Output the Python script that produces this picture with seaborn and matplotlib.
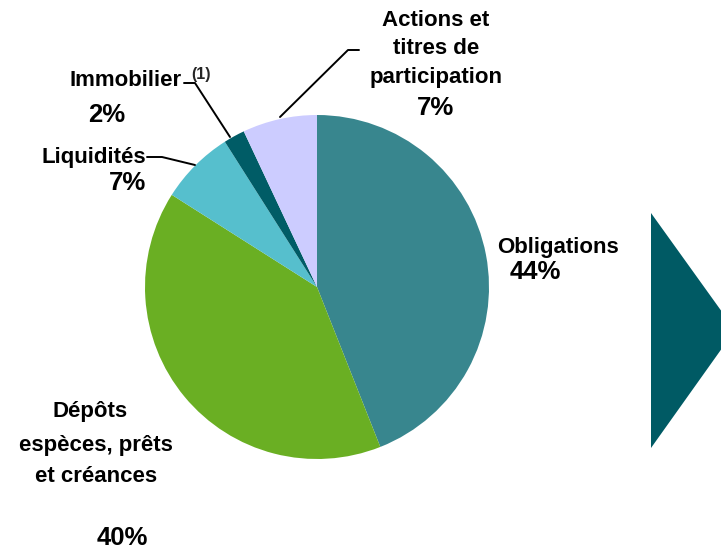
import matplotlib
matplotlib.use("Agg")
import matplotlib.pyplot as plt
import seaborn as sns
from matplotlib.patches import Polygon

# Data
categories = ["Obligations", "Dépôts espèces, prêts et créances", "Liquidités",
              "Immobilier", "Actions et titres de participation"]
shares = [44, 40, 7, 2, 7]
colors = ["#38868E", "#6AAF23", "#56BFCD", "#005C66", "#CCCCFF"]

sns.set_style("white")
plt.rcParams['font.family'] = ['Liberation Sans', 'DejaVu Sans']

W, H = 721, 550
fig = plt.figure(figsize=(W / 100, H / 100), dpi=100)
ax = fig.add_axes([0, 0, 1, 1])


def Y(y):
    # pixel row -> data y
    return H - y


ax.pie(shares, colors=colors, startangle=90, counterclock=False,
       center=(317, Y(287)), radius=172,
       wedgeprops=dict(linewidth=0))
ax.set_xlim(0, W)
ax.set_ylim(0, H)
ax.set_aspect('auto')
ax.axis('off')

# decorative arrow on the right
ax.add_patch(Polygon([(651, Y(213)), (651, Y(448)), (735, Y(330))],
                     closed=True, facecolor="#005A64", edgecolor="none"))

lab = dict(fontsize=16, fontweight='bold', ha='center', va='center', color='black')
pct = dict(fontsize=18.5, fontweight='bold', ha='center', va='center', color='black')

# Actions
for txt, yy in [("Actions et", 20), ("titres de", 49), ("participation", 78)]:
    ax.text(436, Y(yy), txt, **lab)
ax.text(436, Y(108), f"{shares[4]}%", **pct)
ax.plot([280, 348, 359], [Y(117), Y(50), Y(50)], color='black', lw=1.4)

# Immobilier
ax.text(126, Y(80), "Immobilier", **lab)
ax.text(201, Y(75), "(1)", fontsize=11.5, fontweight='bold', ha='center', va='center')
ax.text(107, Y(115), f"{shares[3]}%", **pct)
ax.plot([184, 195, 230], [Y(83), Y(83), Y(137)], color='black', lw=1.4)

# Liquidités
ax.text(94, Y(158), "Liquidités", **lab)
ax.text(127, Y(183), f"{shares[2]}%", **pct)
ax.plot([147, 162, 195], [Y(157), Y(157), Y(165)], color='black', lw=1.4)

# Obligations
ax.text(558, Y(248), "Obligations", **lab)
ax.text(535, Y(272), f"{shares[0]}%", **pct)

# Dépôts
ax.text(90, Y(412), "Dépôts", **lab)
ax.text(96, Y(445), "espèces, prêts", **lab)
ax.text(96, Y(477), "et créances", **lab)
ax.text(122, Y(538), f"{shares[1]}%", **pct)

fig.savefig("out.png", dpi=100)
